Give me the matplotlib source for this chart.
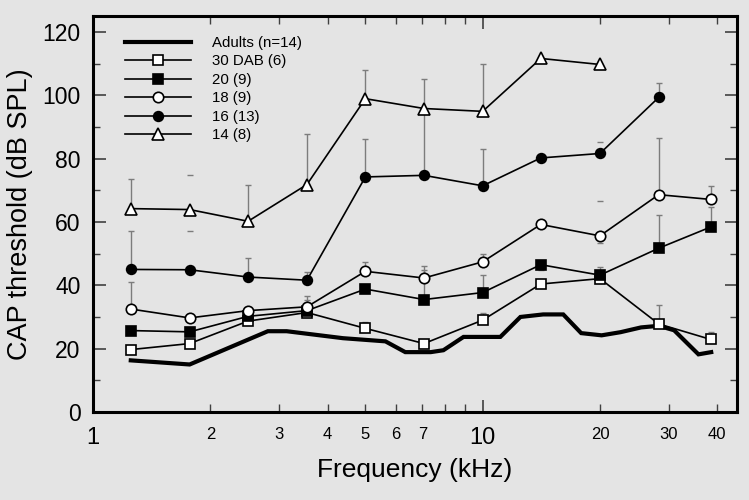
import numpy as np
import matplotlib
matplotlib.use("Agg")
import matplotlib.pyplot as plt
from matplotlib.ticker import FixedLocator, FixedFormatter

plt.rcParams['font.family'] = ['Liberation Sans', 'DejaVu Sans']

# ---------------- data ----------------
freqs = [1.25, 1.77, 2.5, 3.54, 5.0, 7.07, 10.0, 14.1, 20.0, 28.3, 38.5]

adult_f = [1.25, 1.77, 2.81, 3.14, 4.38, 5.63, 6.33, 7.36, 7.93, 8.93, 11.1,
           12.5, 14.3, 16.1, 17.9, 20.2, 22.6, 25.5, 28.3, 31.0, 35.8, 38.6]
adult_v = [16.3, 15.0, 25.5, 25.5, 23.3, 22.3, 18.9, 18.9, 19.5, 23.7, 23.7,
           30.0, 30.8, 30.8, 24.9, 24.2, 25.2, 26.7, 27.2, 25.8, 18.2, 18.9]

dab30 = [19.7, 21.6, 28.7, 31.4, 26.4, 21.6, 29.0, 40.4, 42.1, 27.8, 22.9]
dab30_up = [np.nan, np.nan, np.nan, np.nan, 28.4, np.nan, 31.1, np.nan, np.nan, 33.7, 25.3]

d20 = [25.7, 25.3, 30.2, 32.0, 38.8, 35.5, 37.7, 46.5, 43.2, 51.7, 58.4]
d20_up = [np.nan, np.nan, np.nan, 35.4, np.nan, 44.7, 43.2, np.nan, 45.8, 62.3, 64.7]

d18 = [32.5, 29.7, 32.0, 33.2, 44.4, 42.3, 47.4, 59.2, 55.6, 68.6, 67.1]
d18_up = [40.9, np.nan, np.nan, 36.5, 47.4, 46.0, 50.0, np.nan, np.nan, 86.4, 71.3]

d16 = [45.0, 44.9, 42.6, 41.6, 74.2, 74.7, 71.4, 80.2, 81.6, 99.3]
d16_up = [57.0, np.nan, 48.6, 44.2, 86.3, 95.0, 82.9, np.nan, np.nan, 103.9]

d14 = [64.2, 63.9, 60.2, 71.8, 98.9, 95.8, 94.9, 111.6, 109.7]
d14_up = [73.4, np.nan, 71.6, 87.9, 107.9, 105.0, 109.8, np.nan, np.nan]

# isolated error-bar caps (no visible stem)
cap_f = [1.77, 1.77, 20.0, 20.0, 20.0, 14.1]
cap_v = [74.7, 57.0, 85.3, 66.5, 53.2, 44.7]

labels = ["Adults (n=14)", "30 DAB (6)", "20 (9)", "18 (9)", "16 (13)", "14 (8)"]

xmajor = [1, 10]
xmajor_labels = ["1", "10"]
xminor = [2, 3, 4, 5, 6, 7, 8, 9, 20, 30, 40]
xminor_labels = ["2", "3", "4", "5", "6", "7", "", "", "20", "30", "40"]

# ---------------- style ----------------
bg = "#e4e4e4"
ecol = "#7c7c7c"

fig = plt.figure(figsize=(7.49, 5.0), dpi=100, facecolor=bg)
ax = fig.add_axes([0.1242, 0.176, 0.86, 0.792], facecolor=bg)
ax.set_xscale("log")
ax.set_xlim(1, 45)
ax.set_ylim(0, 125)

series = [
    (dab30, dab30_up, "s", "white", labels[1], 7),
    (d20, d20_up, "s", "black", labels[2], 7),
    (d18, d18_up, "o", "white", labels[3], 7.5),
    (d16, d16_up, "o", "black", labels[4], 7),
    (d14, d14_up, "^", "white", labels[5], 8.5),
]

handles = []
h_adult, = ax.plot(adult_f, adult_v, color="black", lw=3.0, solid_joinstyle="miter",
                   zorder=4, label=labels[0])
handles.append(h_adult)

for vals, ups, mk, fc, lab, ms in series:
    f = np.array(freqs[:len(vals)])
    v = np.array(vals, dtype=float)
    u = np.array(ups, dtype=float)
    m = ~np.isnan(u)
    ax.errorbar(f[m], v[m], yerr=[np.zeros(m.sum()), u[m] - v[m]], fmt="none",
                ecolor=ecol, elinewidth=1.0, capsize=2.5, capthick=1.0, zorder=2)
    h, = ax.plot(f, v, color="black", lw=1.2, marker=mk, ms=ms, mfc=fc, mec="black",
                 mew=1.2, zorder=5, label=lab)
    handles.append(h)

ax.plot(cap_f, cap_v, linestyle="none", marker="_", ms=5, mew=1.0, color=ecol, zorder=2)

# ---------------- axes ----------------
for s in ax.spines.values():
    s.set_linewidth(2.2)

ax.xaxis.set_major_locator(FixedLocator(xmajor))
ax.xaxis.set_major_formatter(FixedFormatter(xmajor_labels))
ax.xaxis.set_minor_locator(FixedLocator(xminor))
ax.xaxis.set_minor_formatter(FixedFormatter(xminor_labels))
ax.set_yticks(np.arange(0, 121, 20))
ax.set_yticks(np.arange(10, 121, 20), minor=True)

ax.tick_params(axis="both", which="both", direction="in", top=True, right=True, color="#404040")
ax.tick_params(axis="x", which="major", length=9, width=1.2, labelsize=17, pad=11)
ax.tick_params(axis="x", which="minor", length=6, width=1.0, labelsize=12, pad=11)
ax.tick_params(axis="y", which="major", length=9, width=1.2, labelsize=16.5, pad=9)
ax.tick_params(axis="y", which="minor", length=5, width=1.0)

ax.set_xlabel("Frequency (kHz)", fontsize=19, labelpad=6)
ax.set_ylabel("CAP threshold (dB SPL)", fontsize=19.5, labelpad=7)

leg = ax.legend(handles=handles, loc="upper left", bbox_to_anchor=(0.05, 0.95),
                frameon=False, fontsize=10.8, handlelength=4.4, handletextpad=1.4,
                labelspacing=0.3, borderpad=0, borderaxespad=0)

fig.savefig("out.png", dpi=100, facecolor=bg)
